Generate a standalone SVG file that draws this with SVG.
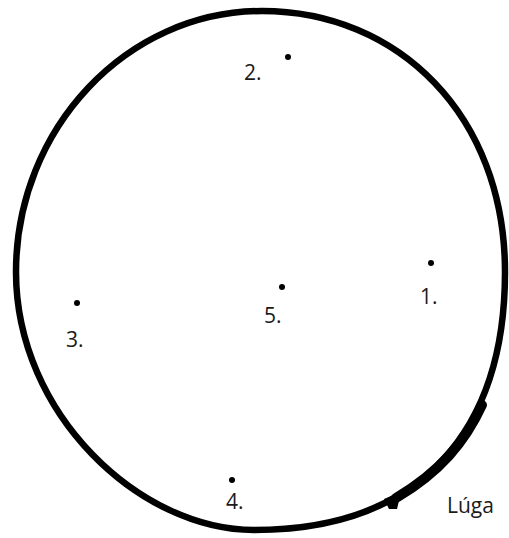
<svg xmlns="http://www.w3.org/2000/svg" width="509" height="538" viewBox="0 0 509 538">
<style>
.outline{fill:none;stroke:#000;stroke-width:6.5;stroke-linejoin:round}
.thick{fill:none;stroke:#000;stroke-width:10;stroke-linecap:round}
.dot{fill:#000}
.lbl{font-family:"Open Sans","Noto Sans",sans-serif;font-size:21px;fill:#1a1a1a}
</style>
<rect width="509" height="538" fill="#fff"/>
<g id="boundary">
<path class="outline" d="M262,11 C398,11 505,115.4 505,272 C505,426.8 424.7,530 254,530 C139.8,530 16,413.9 16,272 C16,128.5 126.7,11 262,11 Z"/>
<path class="thick" d="M482,405 C465,442 440,472 396,498"/>
<polygon class="dot" points="384,499 401,492 397,509 389,509"/>
</g>
<g id="node1"><circle cx="431" cy="263" r="3" class="dot"/><text class="lbl" x="420" y="304">1.</text></g>
<g id="node2"><circle cx="288" cy="57" r="3" class="dot"/><text class="lbl" x="244" y="80">2.</text></g>
<g id="node3"><circle cx="77" cy="303" r="3" class="dot"/><text class="lbl" x="66" y="347">3.</text></g>
<g id="node4"><circle cx="232" cy="480" r="3" class="dot"/><text class="lbl" x="226" y="509">4.</text></g>
<g id="node5"><circle cx="282" cy="287" r="3" class="dot"/><text class="lbl" x="264" y="323">5.</text></g>
<g id="label"><text class="lbl" x="447" y="513">Lúga</text></g>
<g id="connectors"/>
</svg>
